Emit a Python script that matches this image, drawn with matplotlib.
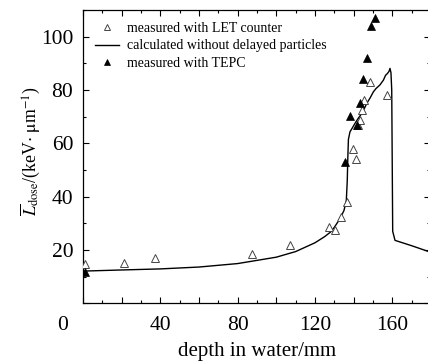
import matplotlib
matplotlib.use("Agg")
import matplotlib.pyplot as plt
from matplotlib.ticker import MultipleLocator, FuncFormatter

plt.rcParams['font.family'] = ['Liberation Serif', 'DejaVu Serif']
plt.rcParams['mathtext.fontset'] = 'stix'

# measured with LET counter (open triangles)
let_x = [1.0, 21.0, 37.2, 87.3, 107.2, 127.3, 130.6, 133.3, 136.4, 139.5,
         141.3, 142.4, 143.3, 144.2, 145.3, 148.3, 157.3]
let_y = [14.7, 15.3, 16.9, 18.4, 21.9, 28.6, 27.6, 32.5, 38.1, 58.0,
         54.0, 66.9, 68.7, 72.5, 76.2, 83.1, 78.2]

# measured with TEPC (filled triangles)
tepc_x = [1.0, 135.6, 138.3, 141.6, 143.2, 144.8, 147.1, 149.0, 151.1]
tepc_y = [11.9, 53.1, 70.1, 66.7, 75.0, 84.0, 92.0, 104.0, 107.0]

# calculated without delayed particles
calc_x = [1, 20, 40, 60, 80, 100, 110, 120, 125, 128, 130, 133, 135, 136.2,
          136.7, 137.0, 137.3, 138.1, 139.5, 140.7, 142.5, 144.2, 145.5,
          146.8, 148.5, 150.2, 151.5, 153.6, 155.4, 156.5, 157.5, 158.3,
          158.8, 159.3, 159.7, 160.2, 161.4, 170, 179.6]
calc_y = [12.1, 12.5, 12.9, 13.6, 14.9, 17.3, 19.4, 22.7, 25.0, 26.7, 28.5,
          31.8, 34.8, 38.5, 46.0, 55.0, 61.5, 64.3, 66.0, 67.5, 69.5, 71.2,
          73.0, 75.0, 77.0, 79.3, 80.5, 81.9, 83.7, 85.5, 86.2, 87.0, 88.1,
          86.5, 80.0, 27.0, 23.6, 21.6, 19.2]

W, H = 428, 362
fig = plt.figure(figsize=(W / 100, H / 100), dpi=100)
ax = fig.add_axes([83 / W, (H - 303.3) / H, (430.2 - 83) / W, (303.3 - 10) / H])

ax.plot(let_x, let_y, linestyle='none', marker='^', ms=6, mfc='white',
        mec='#444444', mew=0.7, label='measured with LET counter', zorder=3)
ax.plot(calc_x, calc_y, color='black', lw=1.0,
        label='calculated without delayed particles', zorder=2)
ax.plot(tepc_x, tepc_y, linestyle='none', marker='^', ms=6, mfc='black',
        mec='black', mew=0.5, label='measured with TEPC', zorder=4)

ax.set_xlim(0, 179.6)
ax.set_ylim(0, 110)

ax.xaxis.set_major_locator(MultipleLocator(20))
ax.xaxis.set_minor_locator(MultipleLocator(10))
ax.yaxis.set_major_locator(MultipleLocator(20))
ax.yaxis.set_minor_locator(MultipleLocator(10))
ax.xaxis.set_major_formatter(FuncFormatter(
    lambda v, p: '%d' % v if (v > 0 and v % 40 == 0) else ''))
ax.yaxis.set_major_formatter(FuncFormatter(
    lambda v, p: '%d' % v if v > 0 else ''))

ax.tick_params(which='both', direction='in', top=True, right=True,
               labelsize=15.5, width=0.8)
ax.tick_params(which='major', length=4.5)
ax.tick_params(which='minor', length=2.5)
ax.tick_params(axis='x', pad=9)
ax.tick_params(axis='y', pad=7)
for s in ax.spines.values():
    s.set_linewidth(0.9)

fig.text(63 / W, 1 - 325 / H, '0', fontsize=15.5, ha='center', va='center')

ax.set_xlabel('depth in water/mm', fontsize=15)
ax.xaxis.set_label_coords(0.5, -0.132)
ax.set_ylabel(r'$\overline{L}_{\rm dose}$/(keV$\cdot$ $\mathrm{\mu}$m$^{-1}$)',
              fontsize=12.8)
ax.yaxis.set_label_coords(-0.118, 0.52)

ax.legend(loc='upper left', bbox_to_anchor=(95 / W, 1 - 22 / H),
          bbox_transform=fig.transFigure, frameon=False, fontsize=10,
          markerscale=0.65, handlelength=1.7, handletextpad=0.6,
          labelspacing=0.32, borderpad=0, borderaxespad=0)

fig.savefig('out.png', dpi=100)
